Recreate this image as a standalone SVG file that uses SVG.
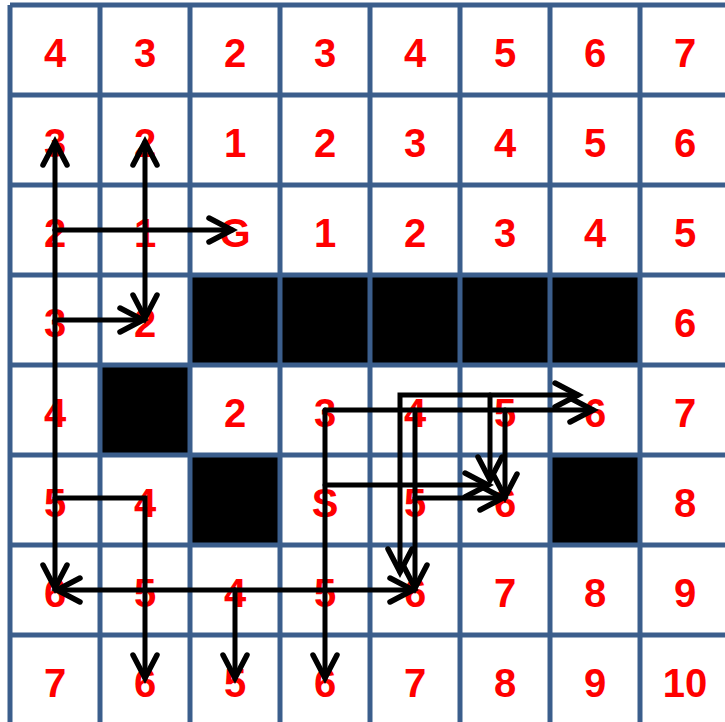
<svg xmlns="http://www.w3.org/2000/svg" width="725" height="722" viewBox="0 0 725 722">
<defs>
<style>
.bg{fill:#ffffff}
.blk{fill:#000000}
.grid{stroke:#3B5E8C;stroke-width:5;fill:none}
.t{font-family:"Liberation Sans",Arial,sans-serif;font-weight:bold;font-size:40px;fill:#FF0000;text-anchor:middle}
.c{stroke:#000000;stroke-width:5;fill:none;stroke-linecap:round;stroke-linejoin:miter}
</style>
<marker id="ah" markerUnits="userSpaceOnUse" markerWidth="40" markerHeight="40" viewBox="-30 -20 40 40" refX="0" refY="0" orient="auto-start-reverse" overflow="visible">
<path d="M-23,-12 L0,0 L-23,12" fill="none" stroke="#000000" stroke-width="5.5" stroke-linecap="round" stroke-linejoin="miter"/>
</marker>
</defs>
<rect class="bg" x="0" y="0" width="725" height="722"/>
<g id="cells">
<g id="r1c1"><text class="t" x="55" y="67">4</text></g>
<g id="r1c2"><text class="t" x="145" y="67">3</text></g>
<g id="r1c3"><text class="t" x="235" y="67">2</text></g>
<g id="r1c4"><text class="t" x="325" y="67">3</text></g>
<g id="r1c5"><text class="t" x="415" y="67">4</text></g>
<g id="r1c6"><text class="t" x="505" y="67">5</text></g>
<g id="r1c7"><text class="t" x="595" y="67">6</text></g>
<g id="r1c8"><text class="t" x="685" y="67">7</text></g>
<g id="r2c1"><text class="t" x="55" y="157">3</text></g>
<g id="r2c2"><text class="t" x="145" y="157">2</text></g>
<g id="r2c3"><text class="t" x="235" y="157">1</text></g>
<g id="r2c4"><text class="t" x="325" y="157">2</text></g>
<g id="r2c5"><text class="t" x="415" y="157">3</text></g>
<g id="r2c6"><text class="t" x="505" y="157">4</text></g>
<g id="r2c7"><text class="t" x="595" y="157">5</text></g>
<g id="r2c8"><text class="t" x="685" y="157">6</text></g>
<g id="r3c1"><text class="t" x="55" y="247">2</text></g>
<g id="r3c2"><text class="t" x="145" y="247">1</text></g>
<g id="r3c3"><text class="t" x="235" y="247">G</text></g>
<g id="r3c4"><text class="t" x="325" y="247">1</text></g>
<g id="r3c5"><text class="t" x="415" y="247">2</text></g>
<g id="r3c6"><text class="t" x="505" y="247">3</text></g>
<g id="r3c7"><text class="t" x="595" y="247">4</text></g>
<g id="r3c8"><text class="t" x="685" y="247">5</text></g>
<g id="r4c1"><text class="t" x="55" y="337">3</text></g>
<g id="r4c2"><text class="t" x="145" y="337">2</text></g>
<g id="r4c3"><rect class="blk" x="190" y="275" width="90" height="90"/></g>
<g id="r4c4"><rect class="blk" x="280" y="275" width="90" height="90"/></g>
<g id="r4c5"><rect class="blk" x="370" y="275" width="90" height="90"/></g>
<g id="r4c6"><rect class="blk" x="460" y="275" width="90" height="90"/></g>
<g id="r4c7"><rect class="blk" x="550" y="275" width="90" height="90"/></g>
<g id="r4c8"><text class="t" x="685" y="337">6</text></g>
<g id="r5c1"><text class="t" x="55" y="427">4</text></g>
<g id="r5c2"><rect class="blk" x="100" y="365" width="90" height="90"/></g>
<g id="r5c3"><text class="t" x="235" y="427">2</text></g>
<g id="r5c4"><text class="t" x="325" y="427">3</text></g>
<g id="r5c5"><text class="t" x="415" y="427">4</text></g>
<g id="r5c6"><text class="t" x="505" y="427">5</text></g>
<g id="r5c7"><text class="t" x="595" y="427">6</text></g>
<g id="r5c8"><text class="t" x="685" y="427">7</text></g>
<g id="r6c1"><text class="t" x="55" y="517">5</text></g>
<g id="r6c2"><text class="t" x="145" y="517">4</text></g>
<g id="r6c3"><rect class="blk" x="190" y="455" width="90" height="90"/></g>
<g id="r6c4"><text class="t" x="325" y="517">S</text></g>
<g id="r6c5"><text class="t" x="415" y="517">5</text></g>
<g id="r6c6"><text class="t" x="505" y="517">6</text></g>
<g id="r6c7"><rect class="blk" x="550" y="455" width="90" height="90"/></g>
<g id="r6c8"><text class="t" x="685" y="517">8</text></g>
<g id="r7c1"><text class="t" x="55" y="607">6</text></g>
<g id="r7c2"><text class="t" x="145" y="607">5</text></g>
<g id="r7c3"><text class="t" x="235" y="607">4</text></g>
<g id="r7c4"><text class="t" x="325" y="607">5</text></g>
<g id="r7c5"><text class="t" x="415" y="607">6</text></g>
<g id="r7c6"><text class="t" x="505" y="607">7</text></g>
<g id="r7c7"><text class="t" x="595" y="607">8</text></g>
<g id="r7c8"><text class="t" x="685" y="607">9</text></g>
<g id="r8c1"><text class="t" x="55" y="697">7</text></g>
<g id="r8c2"><text class="t" x="145" y="697">6</text></g>
<g id="r8c3"><text class="t" x="235" y="697">5</text></g>
<g id="r8c4"><text class="t" x="325" y="697">6</text></g>
<g id="r8c5"><text class="t" x="415" y="697">7</text></g>
<g id="r8c6"><text class="t" x="505" y="697">8</text></g>
<g id="r8c7"><text class="t" x="595" y="697">9</text></g>
<g id="r8c8"><text class="t" x="685" y="697">10</text></g>
</g>
<g id="grid" class="grid">
<path d="M10,5V725M100,5V725M190,5V725M280,5V725M370,5V725M460,5V725M550,5V725M640,5V725M730,5V725"/>
<path d="M10,5H730M10,95H730M10,185H730M10,275H730M10,365H730M10,455H730M10,545H730M10,635H730M10,725H730"/>
</g>
<g id="connectors" class="c">
<path d="M55,230V142" marker-end="url(#ah)"/>
<path d="M55,230V588" marker-end="url(#ah)"/>
<path d="M55,230H232" marker-end="url(#ah)"/>
<path d="M145,230V142" marker-end="url(#ah)"/>
<path d="M145,230V318" marker-end="url(#ah)"/>
<path d="M55,320H143" marker-end="url(#ah)"/>
<path d="M55,498H145V678" marker-end="url(#ah)"/>
<path d="M235,590H57" marker-end="url(#ah)"/>
<path d="M235,590H413" marker-end="url(#ah)"/>
<path d="M235,590V678" marker-end="url(#ah)"/>
<path d="M325,410V678" marker-end="url(#ah)"/>
<path d="M325,410H593" marker-end="url(#ah)"/>
<path d="M325,485H488" marker-end="url(#ah)"/>
<path d="M400,572V395H578" marker-start="url(#ah)" marker-end="url(#ah)"/>
<path d="M490,395V480" marker-end="url(#ah)"/>
<path d="M415,410V588" marker-end="url(#ah)"/>
<path d="M415,498H503" marker-end="url(#ah)"/>
<path d="M505,410V497" marker-end="url(#ah)"/>
</g>
</svg>
